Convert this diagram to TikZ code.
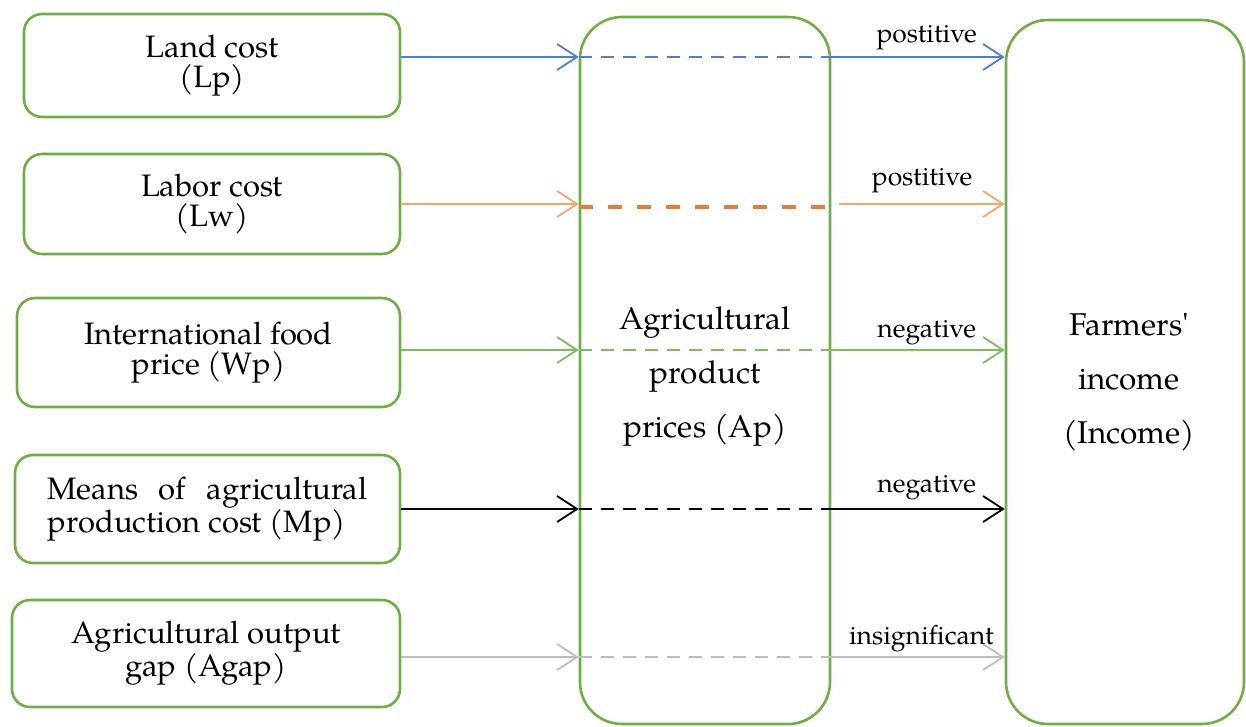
\documentclass[tikz,border=0pt]{standalone}
\usepackage{fontspec}
\setmainfont{TeX Gyre Pagella}[Ligatures=TeXOff]
\usetikzlibrary{arrows.meta}
\definecolor{boxgreen}{HTML}{70AD47}
\definecolor{cblue}{HTML}{4F7FC6}
\definecolor{corange}{HTML}{F4A46F}
\definecolor{corangedk}{HTML}{E57C3A}
\definecolor{cgreen}{HTML}{7DBB5E}
\definecolor{cgray}{HTML}{BDBDBD}
\tikzset{
  leftbox/.style={draw=boxgreen, line width=2.6pt, rounded corners=18pt, align=center,
    minimum width=376pt, inner sep=0pt, font=\fontsize{31}{30}\selectfont},
  bigbox/.style={draw=boxgreen, line width=2.6pt, rounded corners=42pt, inner sep=0pt},
  bigtext/.style={align=center, inner sep=0pt, font=\fontsize{31.5}{54}\selectfont},
  arr/.style={line width=1.8pt, -{Straight Barb[length=20pt,width=26pt,line width=1.8pt]}},
  dline/.style={line width=2.2pt, dash pattern=on 13pt off 9pt},
  lbl/.style={above, inner sep=0pt, yshift=13pt, text=black, font=\fontsize{26.5}{26.5}\selectfont, anchor=base}
}
\begin{document}
\begin{tikzpicture}[x=1pt,y=-1pt]
\useasboundingbox (0,0) rectangle (1246,726);
% left boxes
\node[leftbox, minimum height=103pt] (lp) at (212,65.5) {Land cost\\(Lp)};
\node[leftbox, minimum height=100pt] (lw) at (212,204) {Labor cost\\(Lw)};
\node[leftbox, minimum height=109pt, minimum width=383pt] (wp) at (208.5,352.5) {International food\\price (Wp)};
\node[leftbox, minimum height=108pt, minimum width=385pt] (mp) at (207.5,509) {\parbox{320pt}{Means\hfill of\hfill agricultural\\production cost (Mp)}};
\node[leftbox, minimum height=107pt, minimum width=388pt] (ag) at (206,653.5) {Agricultural output\\gap (Agap)};
% middle and right boxes
\node[bigbox, minimum width=250pt, minimum height=707pt] (ap) at (705,370.5) {};
\node[bigtext] (apt) at ([yshift=-6pt]ap.center) {Agricultural\\product\\prices (Ap)};
\node[bigbox, minimum width=238pt, minimum height=704pt] (inc) at (1125,372) {};
\node[bigtext] (inct) at ([xshift=4pt,yshift=-10pt]inc.center) {Farmers'\\income\\(Income)};
% rows
\coordinate (r1) at (0,57);
\coordinate (r2) at (0,204);
\coordinate (r3) at (0,350);
\coordinate (r4) at (0,509);
\coordinate (r5) at (0,657);
% row 1
\draw[arr, cblue] (lp.east |- r1) -- (ap.west |- r1);
\draw[dline, cblue] (ap.west |- r1) -- (ap.east |- r1);
\draw[arr, cblue] (ap.east |- r1) -- (inc.west |- r1) node[lbl, pos=0.55, yshift=2pt] {postitive};
% row 2
\draw[arr, corange] (lw.east |- r2) -- (ap.west |- r2);
\draw[line width=4.2pt, dash pattern=on 14pt off 15pt, corangedk] ([yshift=-3pt]ap.west |- r2) -- ([yshift=-3pt]ap.east |- r2);
\draw[arr, corange] ([xshift=8pt]ap.east |- r2) -- (inc.west |- r2) node[lbl, pos=0.5, yshift=6pt] {postitive};
% row 3
\draw[arr, cgreen] (wp.east |- r3) -- (ap.west |- r3);
\draw[dline, cgreen] (ap.west |- r3) -- (ap.east |- r3);
\draw[arr, cgreen] (ap.east |- r3) -- (inc.west |- r3) node[lbl, pos=0.55] {negative};
% row 4
\draw[arr, black] (mp.east |- r4) -- (ap.west |- r4);
\draw[dline, black] (ap.west |- r4) -- (ap.east |- r4);
\draw[arr, black] (ap.east |- r4) -- (inc.west |- r4) node[lbl, pos=0.55, yshift=4pt] {negative};
% row 5
\draw[arr, cgray] (ag.east |- r5) -- (ap.west |- r5);
\draw[dline, cgray] (ap.west |- r5) -- (ap.east |- r5);
\draw[arr, cgray] (ap.east |- r5) -- (inc.west |- r5) node[lbl, pos=0.52] {insignificant};
\end{tikzpicture}
\end{document}
